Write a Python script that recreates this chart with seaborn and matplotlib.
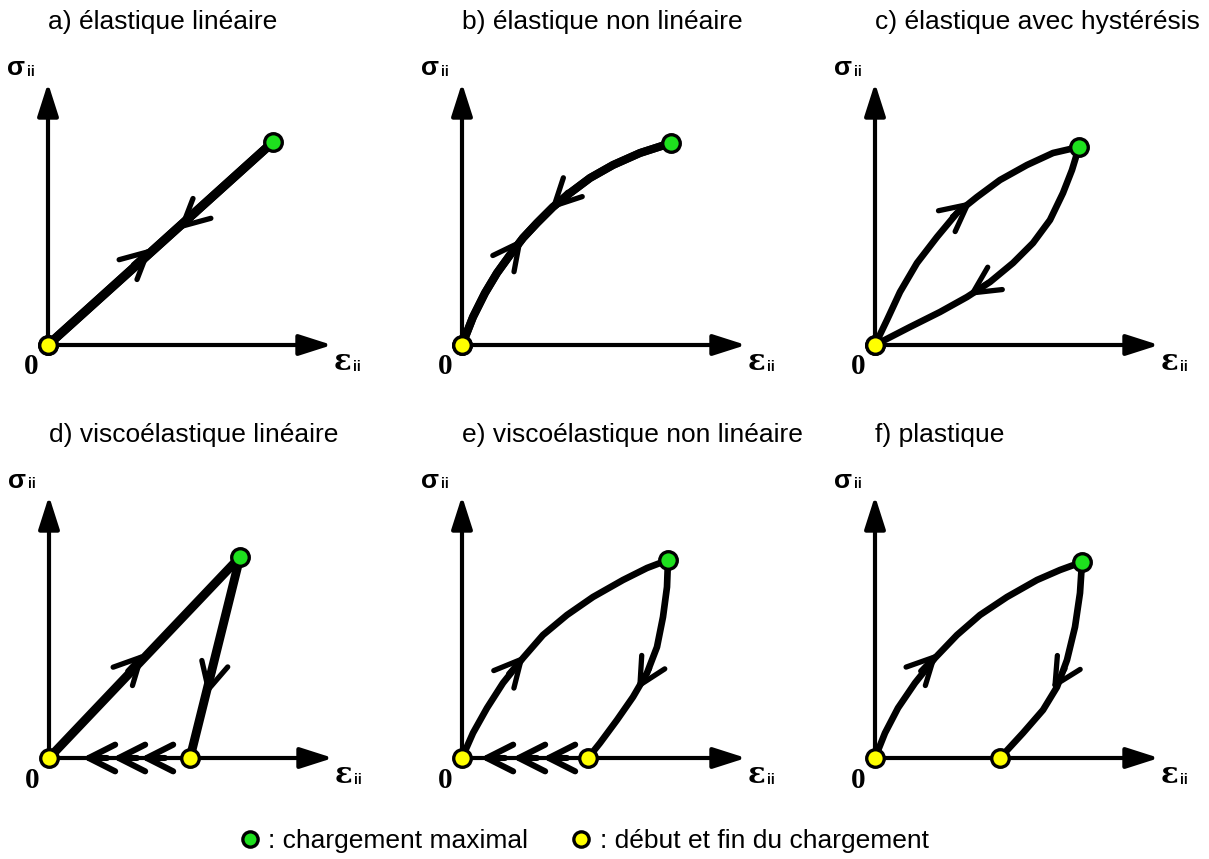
import numpy as np
import matplotlib
matplotlib.use("Agg")
import matplotlib.pyplot as plt
from matplotlib.lines import Line2D
import seaborn as sns

# ---- données (unités arbitraires : déformation / contrainte) ----
titles = [
    "a) élastique linéaire",
    "b) élastique non linéaire",
    "c) élastique avec hystérésis",
    "d) viscoélastique linéaire",
    "e) viscoélastique non linéaire",
    "f) plastique",
]

# chargement (de 0 vers le maximum)
load_a_x = [0.0, 2.25]
load_a_y = [0.0, 2.03]
load_b_x = [0.0, 0.11, 0.23, 0.35, 0.48, 0.61, 0.75, 0.91, 1.08, 1.28, 1.51, 1.78, 2.09]
load_b_y = [0.0, 0.28, 0.52, 0.72, 0.90, 1.07, 1.22, 1.38, 1.52, 1.67, 1.80, 1.92, 2.02]
load_c_x = [0.0, 0.12, 0.25, 0.42, 0.62, 0.82, 1.02, 1.25, 1.52, 1.78, 2.04]
load_c_y = [0.0, 0.25, 0.53, 0.82, 1.08, 1.32, 1.48, 1.65, 1.80, 1.92, 1.98]
load_d_x = [0.0, 1.91]
load_d_y = [0.0, 2.01]
load_e_x = [0.0, 0.11, 0.25, 0.41, 0.61, 0.81, 1.05, 1.31, 1.61, 1.85, 2.06]
load_e_y = [0.0, 0.25, 0.50, 0.75, 1.00, 1.23, 1.43, 1.61, 1.78, 1.90, 1.98]
load_f_x = [0.0, 0.10, 0.23, 0.40, 0.60, 0.82, 1.05, 1.32, 1.62, 1.85, 2.07]
load_f_y = [0.0, 0.25, 0.50, 0.75, 1.00, 1.23, 1.43, 1.61, 1.78, 1.88, 1.96]

# déchargement (du maximum vers la fin)
unload_a_x = load_a_x[::-1]
unload_a_y = load_a_y[::-1]
unload_b_x = load_b_x[::-1]
unload_b_y = load_b_y[::-1]
unload_c_x = [2.04, 1.97, 1.88, 1.75, 1.58, 1.38, 1.15, 0.92, 0.65, 0.35, 0.0]
unload_c_y = [1.98, 1.75, 1.52, 1.25, 1.02, 0.82, 0.63, 0.48, 0.33, 0.18, 0.0]
unload_d_x = [1.91, 1.41]
unload_d_y = [2.01, 0.0]
unload_e_x = [2.06, 2.05, 2.01, 1.95, 1.85, 1.71, 1.55, 1.38, 1.26]
unload_e_y = [1.98, 1.71, 1.41, 1.11, 0.85, 0.61, 0.38, 0.15, 0.0]
unload_f_x = [2.07, 2.05, 2.00, 1.92, 1.82, 1.68, 1.48, 1.25]
unload_f_y = [1.96, 1.65, 1.31, 0.98, 0.71, 0.48, 0.25, 0.0]

# pointes des flèches (chargement, déchargement)
tips_load = [(1.04, 0.97), (0.61, 1.07), (0.97, 1.44), (0.96, 1.05), (0.63, 1.03), (0.63, 1.05)]
tips_unload = [(1.30, 1.15), (0.88, 1.35), (0.93, 0.49), (1.58, 0.63), (1.75, 0.68), (1.77, 0.68)]

# retour différé sur l'axe des déformations (chevrons)
creep_back_d = [0.33, 0.63, 0.91]
creep_back_e = [0.18, 0.50, 0.80]

loads = [(load_a_x, load_a_y), (load_b_x, load_b_y), (load_c_x, load_c_y),
         (load_d_x, load_d_y), (load_e_x, load_e_y), (load_f_x, load_f_y)]
unloads = [(unload_a_x, unload_a_y), (unload_b_x, unload_b_y), (unload_c_x, unload_c_y),
           (unload_d_x, unload_d_y), (unload_e_x, unload_e_y), (unload_f_x, unload_f_y)]
creeps = [None, None, None, creep_back_d, creep_back_e, None]

# ---- mise en page (pixels de la figure) ----
W, H = 1209, 859
origins = [(48, 345), (462, 345), (875, 345), (49, 758), (462, 758), (875, 758)]
line_w = [6.4, 5.8, 4.8, 6.4, 4.8, 4.8]
GREEN = "#1ee01e"
YELLOW = "#ffff00"
PAD = 0.45
EXT = 3.30

sns.set_theme(style="white")
plt.rcParams["font.family"] = ["Liberation Sans", "DejaVu Sans"]
plt.rcParams["text.color"] = "black"

fig = plt.figure(figsize=(W / 100, H / 100), dpi=100)


def chevron(ax, tip, direction, lw):
    d = np.asarray(direction, dtype=float)
    d = d / np.linalg.norm(d)
    tail = np.asarray(tip) - 0.25 * d
    ax.annotate("", xy=tip, xytext=tail,
                arrowprops=dict(arrowstyle="->,head_length=0.95,head_width=0.48",
                                mutation_scale=20, lw=lw, color="black",
                                shrinkA=0, shrinkB=0, capstyle="round",
                                joinstyle="round"))


def local_dir(xs, ys, tip):
    pts = np.column_stack([xs, ys])
    best, bd = 0, np.inf
    for i in range(len(pts) - 1):
        a, b = pts[i], pts[i + 1]
        ab = b - a
        t = np.clip(np.dot(np.asarray(tip) - a, ab) / np.dot(ab, ab), 0, 1)
        dist = np.linalg.norm(a + t * ab - tip)
        if dist < bd:
            best, bd = i, dist
    return pts[best + 1] - pts[best]


for k in range(6):
    ox, oy = origins[k]
    left = (ox - PAD * 100) / W
    bottom = (H - (oy + PAD * 100)) / H
    size = (EXT + PAD) * 100
    ax = fig.add_axes([left, bottom, size / W, size / H])
    ax.set_xlim(-PAD, EXT)
    ax.set_ylim(-PAD, EXT)
    ax.axis("off")

    # axes contrainte / déformation
    for xy in [(2.84, 0.0), (0.0, 2.62)]:
        ax.annotate("", xy=xy, xytext=(0, 0),
                    arrowprops=dict(arrowstyle="-|>,head_length=1.0,head_width=0.32",
                                    mutation_scale=20, lw=3.0, color="black",
                                    shrinkA=0, shrinkB=0))

    lx, ly = loads[k]
    ux, uy = unloads[k]
    for xs, ys in [(lx, ly), (ux, uy)]:
        sns.lineplot(x=xs, y=ys, sort=False, estimator=None, color="black",
                     lw=line_w[k], ax=ax, solid_capstyle="round",
                     solid_joinstyle="round", zorder=3)

    chevron(ax, tips_load[k], local_dir(lx, ly, tips_load[k]), 3.8)
    chevron(ax, tips_unload[k], local_dir(ux, uy, tips_unload[k]), 3.8)
    if creeps[k] is not None:
        for cx in creeps[k]:
            chevron(ax, (cx, 0.0), (-1.0, 0.0), 4.4)

    # points : maximum (vert), début et fin (jaune)
    sns.scatterplot(x=[lx[-1]], y=[ly[-1]], color=GREEN, s=160, edgecolor="black",
                    linewidth=2.4, ax=ax, zorder=5)
    sns.scatterplot(x=[lx[0], ux[-1]], y=[ly[0], uy[-1]], color=YELLOW, s=160,
                    edgecolor="black", linewidth=2.4, ax=ax, zorder=5)

    ax.text(0.0, 3.16, titles[k], ha="left", va="baseline", fontsize=19)
    ax.text(-0.23, 2.70, "σ", ha="right", va="baseline", fontsize=19,
            fontweight="bold", family="Liberation Sans")
    ax.text(-0.21, 2.695, "ii", ha="left", va="baseline", fontsize=10,
            fontweight="bold")
    ax.text(2.86, -0.25, "ε", ha="left", va="baseline", fontsize=21,
            fontweight="bold", family="DejaVu Serif")
    ax.text(3.05, -0.26, "ii", ha="left", va="baseline", fontsize=10,
            fontweight="bold")
    ax.text(-0.17, -0.22, "0", ha="center", va="center", fontsize=21,
            fontweight="bold", family="Liberation Serif")

handles = [
    Line2D([], [], marker="o", ls="none", mfc=GREEN, mec="black", mew=2.4, ms=11),
    Line2D([], [], marker="o", ls="none", mfc=YELLOW, mec="black", mew=2.4, ms=11),
]
fig.legend(handles, [": chargement maximal", ": début et fin du chargement"],
           loc="center", bbox_to_anchor=(0.482, 0.021), ncol=2, frameon=False,
           fontsize=19, handletextpad=0.2, columnspacing=1.5, handlelength=1.0)

fig.savefig("out.png", dpi=100)
